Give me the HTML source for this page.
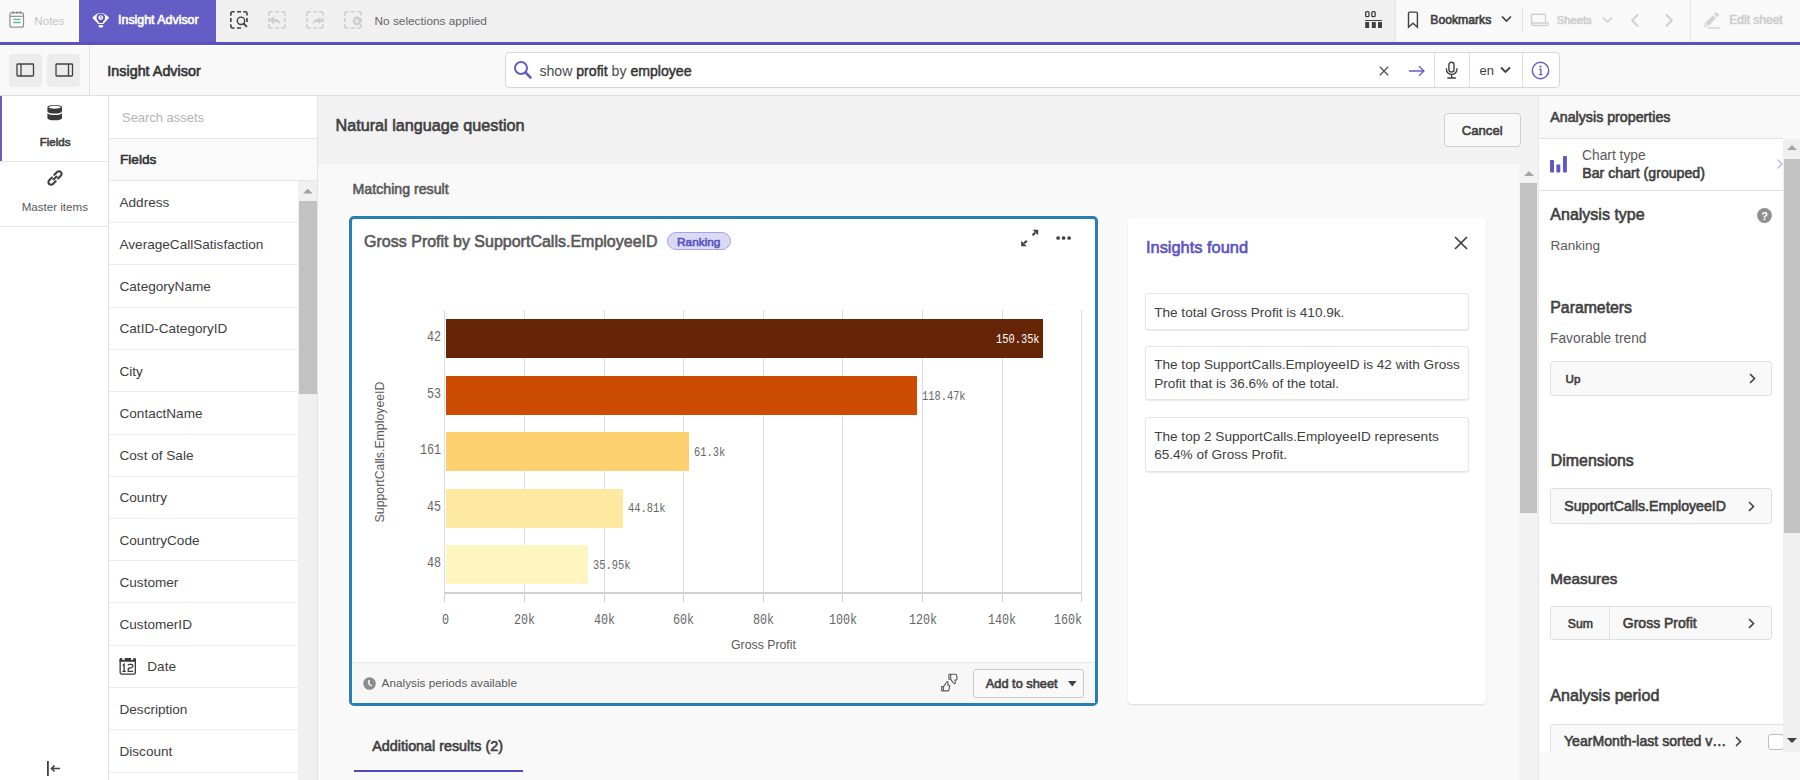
<!DOCTYPE html>
<html><head><meta charset="utf-8"><title>Insight Advisor</title>
<style>
html,body{margin:0;padding:0;}
body{width:1800px;height:780px;overflow:hidden;position:relative;background:#f9f9f9;font-family:"Liberation Sans",sans-serif;}
b{font-weight:bold;}
</style></head><body>
<div style="position:absolute;left:0px;top:0px;width:1800px;height:42px;background:#f9f9f9;"></div>
<div style="position:absolute;left:216px;top:0px;width:1179px;height:42px;background:#f0f0f0;"></div>
<div style="position:absolute;left:1395px;top:0px;width:1px;height:42px;background:#e4e4e4;"></div>
<div style="position:absolute;left:79px;top:0px;width:137px;height:42px;background:#655dc6;"></div>
<div style="position:absolute;left:0px;top:42px;width:1800px;height:3px;background:#5a50c2;"></div>
<div style="position:absolute;left:0px;top:45px;width:1800px;height:50px;background:#f9f9f9;"></div>
<div style="position:absolute;left:0px;top:45px;width:1800px;height:1px;background:#ffffff;"></div>
<div style="position:absolute;left:0px;top:95px;width:1800px;height:1px;background:#e0e0e0;"></div>
<svg style="position:absolute;left:9px;top:11px;" width="16" height="17" viewBox="0 0 16 17"><rect x="0.9" y="1.6" width="13.6" height="14.6" rx="2" fill="#fff" stroke="#8f8f8f" stroke-width="1.2"/><path d="M0.9 5.3h13.6" stroke="#8f8f8f" stroke-width="1.2"/><path d="M4.2 0.2v2.8M8 0.2v2.8M11.5 0.2v2.8" stroke="#8f8f8f" stroke-width="1.3"/><path d="M4.8 8.4h6.3M4.8 11.5h6.3" stroke="#4fbf85" stroke-width="1.3" stroke-linecap="round"/></svg>
<div style="position:absolute;left:34.30px;top:14.00px;font-family:'Liberation Sans', sans-serif;font-size:11.61px;line-height:13px;font-weight:normal;color:#c4c4c4;white-space:nowrap;">Notes</div>
<svg style="position:absolute;left:92px;top:11px;" width="18" height="17" viewBox="0 0 18 17"><path d="M0.2 6.8Q8.7 -2.6 17.2 6.8Q13.5 10.5 11.3 13H6.1Q3.9 10.5 0.2 6.8Z" fill="#fff"/><path d="M6.3 10.2A4.3 4.3 0 1 1 11.3 10.2L10.6 12H7z" fill="#5b52c4"/><circle cx="8.8" cy="6.6" r="2.4" fill="#fff"/><path d="M8.8 4.9V6.7L10.1 7.5" fill="none" stroke="#5b52c4" stroke-width="0.8"/><rect x="6.6" y="14.1" width="4.5" height="2.3" rx="0.8" fill="#fff"/></svg>
<div style="position:absolute;left:118.10px;top:13.00px;font-family:'Liberation Sans', sans-serif;font-size:12.39px;line-height:14px;font-weight:normal;color:#ffffff;white-space:nowrap;-webkit-text-stroke:0.6px #ffffff;">Insight Advisor</div>
<svg style="position:absolute;left:230px;top:11px;" width="18" height="18" viewBox="0 0 18 18"><path d="M0.8 4.8V2.8Q0.8 0.8 2.8 0.8H4.6 M7 0.8H11 M13.2 0.8H15Q17 0.8 17 2.8V4.6 M17 7V11 M11 17H7 M4.6 17H2.8Q0.8 17 0.8 15V13.2 M0.8 11V7" fill="none" stroke="#404040" stroke-width="1.6"/><circle cx="11" cy="9.8" r="3.7" fill="#f0f0f0" stroke="#404040" stroke-width="1.4"/><path d="M13.6 12.5l3.3 3.4" stroke="#404040" stroke-width="1.9"/></svg>
<svg style="position:absolute;left:268px;top:11px;" width="18" height="18" viewBox="0 0 18 18"><path d="M0.8 4.8V2.8Q0.8 0.8 2.8 0.8H4.6 M7 0.8H11 M13.2 0.8H15Q17 0.8 17 2.8V4.6 M17 7V11 M17 13.2V15Q17 17 15 17H13.2 M11 17H7 M4.6 17H2.8Q0.8 17 0.8 15V13.2 M0.8 11V7" fill="none" stroke="#cdcdcd" stroke-width="1.6"/><path d="M1.2 9.3L6 5.2V7.7Q11.5 7.6 12.5 13.2Q10 10.3 6 10.6V13.2Z" fill="#cdcdcd"/></svg>
<svg style="position:absolute;left:306px;top:11px;" width="18" height="18" viewBox="0 0 18 18"><path d="M0.8 4.8V2.8Q0.8 0.8 2.8 0.8H4.6 M7 0.8H11 M13.2 0.8H15Q17 0.8 17 2.8V4.6 M17 7V11 M17 13.2V15Q17 17 15 17H13.2 M11 17H7 M4.6 17H2.8Q0.8 17 0.8 15V13.2 M0.8 11V7" fill="none" stroke="#cdcdcd" stroke-width="1.6"/><path d="M16.8 9.4L12.6 5.9V8.1Q7.5 8.3 6.4 12.9Q9 10.6 12.6 10.9V12.9Z" fill="#cdcdcd"/></svg>
<svg style="position:absolute;left:344px;top:11px;" width="18" height="18" viewBox="0 0 18 18"><path d="M0.8 4.8V2.8Q0.8 0.8 2.8 0.8H4.6 M7 0.8H11 M13.2 0.8H15Q17 0.8 17 2.8V4.6 M17 7V11 M17 13.2V15Q17 17 15 17H13.2 M11 17H7 M4.6 17H2.8Q0.8 17 0.8 15V13.2 M0.8 11V7" fill="none" stroke="#cdcdcd" stroke-width="1.6"/><circle cx="13" cy="10" r="4.4" fill="#cdcdcd"/><path d="M11.3 8.3l3.4 3.4M14.7 8.3l-3.4 3.4" stroke="#f0f0f0" stroke-width="1.2"/></svg>
<div style="position:absolute;left:374.50px;top:14.00px;font-family:'Liberation Sans', sans-serif;font-size:11.84px;line-height:14px;font-weight:normal;color:#666666;white-space:nowrap;">No selections applied</div>
<svg style="position:absolute;left:1365px;top:11px;" width="18" height="18" viewBox="0 0 18 18"><rect x="0.65" y="0.65" width="3.3" height="5" rx="1" fill="none" stroke="#404040" stroke-width="1.3"/><rect x="6.85" y="0.65" width="3.3" height="5" rx="1" fill="none" stroke="#404040" stroke-width="1.3"/><rect x="0" y="9" width="17" height="1" fill="#404040"/><rect x="0.2" y="11" width="3.9" height="6" fill="#404040"/><rect x="6.8" y="11" width="4" height="6" fill="#404040"/><rect x="13" y="11" width="4" height="6" fill="#404040"/></svg>
<svg style="position:absolute;left:1407px;top:10px;" width="13" height="19" viewBox="0 0 13 19"><path d="M1.5 17.2V3.4Q1.5 2.1 2.8 2.1H9.1Q10.4 2.1 10.4 3.4V17.2L5.95 13.2Z" fill="none" stroke="#404040" stroke-width="1.4" stroke-linejoin="miter"/></svg>
<div style="position:absolute;left:1430.30px;top:13.00px;font-family:'Liberation Sans', sans-serif;font-size:12.20px;line-height:14px;font-weight:normal;color:#404040;white-space:nowrap;-webkit-text-stroke:0.6px #404040;">Bookmarks</div>
<svg style="position:absolute;left:1501px;top:15px;" width="11" height="8" viewBox="0 0 11 8"><path d="M1 1.5l4.5 4.5l4.5-4.5" fill="none" stroke="#404040" stroke-width="1.7"/></svg>
<div style="position:absolute;left:1522px;top:8px;width:1px;height:25px;background:#e0e0e0;"></div>
<svg style="position:absolute;left:1530px;top:13px;" width="19" height="14" viewBox="0 0 19 14"><path d="M1.5 10V2.2q0-1 1-1h12q1 0 1 1V9" fill="none" stroke="#d0d0d0" stroke-width="1.4"/><path d="M1.5 10q0 2.5 2.5 2.5h13q1 0 1-1v-1.5h-16" fill="none" stroke="#d0d0d0" stroke-width="1.4"/></svg>
<div style="position:absolute;left:1556.80px;top:14.00px;font-family:'Liberation Sans', sans-serif;font-size:11.20px;line-height:12px;font-weight:normal;color:#cdcdcd;white-space:nowrap;-webkit-text-stroke:0.6px #cdcdcd;">Sheets</div>
<svg style="position:absolute;left:1602px;top:16px;" width="11" height="8" viewBox="0 0 11 8"><path d="M1 1.5l4.5 4.5l4.5-4.5" fill="none" stroke="#cdcdcd" stroke-width="1.5"/></svg>
<svg style="position:absolute;left:1630px;top:13px;" width="10" height="15" viewBox="0 0 10 15"><path d="M8 1.5l-6 6l6 6" fill="none" stroke="#cdcdcd" stroke-width="1.8"/></svg>
<svg style="position:absolute;left:1664px;top:13px;" width="10" height="15" viewBox="0 0 10 15"><path d="M2 1.5l6 6l-6 6" fill="none" stroke="#cdcdcd" stroke-width="1.8"/></svg>
<div style="position:absolute;left:1690px;top:0px;width:1px;height:42px;background:#e6e6e6;"></div>
<svg style="position:absolute;left:1703px;top:11px;" width="18" height="18" viewBox="0 0 18 18"><path d="M5.63 14.69L2.51 11.57L9.94 4.14L13.06 7.26Z" fill="#d2d2d2"/><path d="M14.12 6.2L11 3.08L13.12 0.96L16.24 4.08Z" fill="#d2d2d2"/><path d="M2.2 12.3L1.4 15.8L4.9 15Z" fill="none" stroke="#d2d2d2" stroke-width="0.8"/><rect x="5" y="16.2" width="11.9" height="1.4" fill="#d2d2d2"/></svg>
<div style="position:absolute;left:1729.30px;top:13.00px;font-family:'Liberation Sans', sans-serif;font-size:12.01px;line-height:14px;font-weight:normal;color:#cdcdcd;white-space:nowrap;-webkit-text-stroke:0.6px #cdcdcd;">Edit sheet</div>
<div style="position:absolute;left:8.5px;top:53.5px;width:33px;height:33px;background:#ececec;border-radius:4px;"></div>
<div style="position:absolute;left:46.5px;top:53.5px;width:33px;height:33px;background:#ececec;border-radius:4px;"></div>
<svg style="position:absolute;left:16px;top:63px;" width="19" height="14" viewBox="0 0 19 14"><rect x="1" y="1" width="16.5" height="12" rx="0.8" fill="none" stroke="#404040" stroke-width="1.3"/><path d="M5 1v12" stroke="#404040" stroke-width="1.3"/></svg>
<svg style="position:absolute;left:54.5px;top:63px;" width="19" height="14" viewBox="0 0 19 14"><rect x="1" y="1" width="16.5" height="12" rx="0.8" fill="none" stroke="#404040" stroke-width="1.3"/><path d="M13.5 1v12" stroke="#404040" stroke-width="1.3"/></svg>
<div style="position:absolute;left:89px;top:45px;width:1px;height:50px;background:#e0e0e0;"></div>
<div style="position:absolute;left:107.30px;top:63.00px;font-family:'Liberation Sans', sans-serif;font-size:14.36px;line-height:16px;font-weight:normal;color:#333333;white-space:nowrap;-webkit-text-stroke:0.6px #333333;">Insight Advisor</div>
<div style="position:absolute;left:505px;top:52px;width:1054.5px;height:36px;background:#ffffff;border:1px solid #d6d6d6;border-radius:4px;box-sizing:border-box;"></div>
<svg style="position:absolute;left:513px;top:60px;" width="20" height="20" viewBox="0 0 20 20"><circle cx="8" cy="8" r="6" fill="none" stroke="#655dc6" stroke-width="2"/><path d="M12.5 12.5l5 5" stroke="#655dc6" stroke-width="2.6" stroke-linecap="round"/></svg>
<div style="position:absolute;left:539.40px;top:63.00px;font-family:'Liberation Sans', sans-serif;font-size:14.12px;line-height:16px;font-weight:normal;color:#4a4a4a;white-space:nowrap;">show <span style="-webkit-text-stroke:0.45px #333;color:#333">profit</span> by <span style="-webkit-text-stroke:0.45px #333;color:#333">employee</span></div>
<svg style="position:absolute;left:1378.5px;top:65.5px;" width="10" height="10" viewBox="0 0 10 10"><path d="M0.8 0.8l8.4 8.4M9.2 0.8l-8.4 8.4" stroke="#595959" stroke-width="1.4"/></svg>
<svg style="position:absolute;left:1408px;top:64.5px;" width="18" height="12" viewBox="0 0 18 12"><path d="M1 6h15M11 1.2l5 4.8l-5 4.8" fill="none" stroke="#655dc6" stroke-width="1.3"/></svg>
<div style="position:absolute;left:1434px;top:52px;width:1px;height:36px;background:#dedede;"></div>
<svg style="position:absolute;left:1444px;top:60px;" width="15" height="20" viewBox="0 0 15 20"><rect x="4.9" y="2.3" width="5.1" height="9.7" rx="2.55" fill="none" stroke="#404040" stroke-width="1.4"/><path d="M2.4 8.2V9.2A5.25 5.25 0 0 0 12.9 9.2V8.2M7.65 14.4V17.5M3.3 17.95H11.9" fill="none" stroke="#404040" stroke-width="1.4"/></svg>
<div style="position:absolute;left:1469px;top:52px;width:1px;height:36px;background:#dedede;"></div>
<div style="position:absolute;left:1479.60px;top:63.00px;font-family:'Liberation Sans', sans-serif;font-size:12.97px;line-height:15px;font-weight:normal;color:#404040;white-space:nowrap;">en</div>
<svg style="position:absolute;left:1500px;top:66px;" width="11" height="8" viewBox="0 0 11 8"><path d="M1 1.5l4.5 4.5l4.5-4.5" fill="none" stroke="#404040" stroke-width="1.8"/></svg>
<div style="position:absolute;left:1521.5px;top:52px;width:1px;height:36px;background:#dedede;"></div>
<svg style="position:absolute;left:1531px;top:61px;" width="19" height="19" viewBox="0 0 19 19"><circle cx="9.5" cy="9.5" r="8.2" fill="none" stroke="#655dc6" stroke-width="1.4"/><circle cx="9.5" cy="5.6" r="1.1" fill="#655dc6"/><path d="M8 8.3h1.9v5.2M7.8 13.6h3.6" fill="none" stroke="#655dc6" stroke-width="1.3"/></svg>
<div style="position:absolute;left:0px;top:96px;width:108px;height:684px;background:#ffffff;"></div>
<div style="position:absolute;left:108px;top:96px;width:1px;height:684px;background:#e0e0e0;"></div>
<div style="position:absolute;left:0px;top:96px;width:2px;height:65px;background:#655dc6;"></div>
<div style="position:absolute;left:0px;top:161px;width:108px;height:1px;background:#e6e6e6;"></div>
<div style="position:absolute;left:0px;top:226px;width:108px;height:1px;background:#e6e6e6;"></div>
<svg style="position:absolute;left:47px;top:104px;" width="16" height="17" viewBox="0 0 16 17"><path d="M0.4 3.2A7.3 2.3 0 0 1 15 3.2V7.3A7.3 2.3 0 0 1 0.4 7.3Z" fill="#3a3a3a"/><ellipse cx="7.7" cy="3.3" rx="6.1" ry="1.45" fill="#fff"/><path d="M0.4 8.8A7.3 2.3 0 0 0 15 8.8V14A7.3 2.3 0 0 1 0.4 14Z" fill="#3a3a3a"/></svg>
<div style="position:absolute;left:39.70px;top:136.00px;font-family:'Liberation Sans', sans-serif;font-size:11.54px;line-height:12px;font-weight:normal;color:#404040;white-space:nowrap;-webkit-text-stroke:0.6px #404040;">Fields</div>
<svg style="position:absolute;left:46px;top:169px;" width="18" height="18" viewBox="0 0 18 18"><g fill="none" stroke="#404040" stroke-width="2.1" stroke-linecap="round"><path d="M7.5 10.5l3-3"/><path d="M6 8.5l-2.8 2.8a2.6 2.6 0 0 0 3.7 3.7l2.8-2.8"/><path d="M12 9.5l2.8-2.8a2.6 2.6 0 0 0 -3.7 -3.7l-2.8 2.8"/></g></svg>
<div style="position:absolute;left:21.70px;top:201.00px;font-family:'Liberation Sans', sans-serif;font-size:11.58px;line-height:12px;font-weight:normal;color:#595959;white-space:nowrap;">Master items</div>
<svg style="position:absolute;left:46px;top:760px;" width="16" height="18" viewBox="0 0 16 18"><rect x="1" y="1" width="1.8" height="15" fill="#404040"/><path d="M14 8.5h-8M8.5 5.5l-3 3l3 3" fill="none" stroke="#404040" stroke-width="1.6"/></svg>
<div style="position:absolute;left:109px;top:96px;width:208px;height:684px;background:#ffffff;"></div>
<div style="position:absolute;left:109px;top:138px;width:208px;height:1px;background:#e6e6e6;"></div>
<div style="position:absolute;left:122.00px;top:110.00px;font-family:'Liberation Sans', sans-serif;font-size:12.94px;line-height:15px;font-weight:normal;color:#b3b3b3;white-space:nowrap;">Search assets</div>
<div style="position:absolute;left:109px;top:139px;width:208px;height:42px;background:#fafafa;"></div>
<div style="position:absolute;left:109px;top:180px;width:208px;height:1px;background:#e6e6e6;"></div>
<div style="position:absolute;left:120.00px;top:152.00px;font-family:'Liberation Sans', sans-serif;font-size:13.60px;line-height:15px;font-weight:normal;color:#333333;white-space:nowrap;-webkit-text-stroke:0.6px #333333;">Fields</div>
<div style="position:absolute;left:109px;top:222px;width:189px;height:1px;background:#ebebeb;"></div>
<div style="position:absolute;left:119.50px;top:195.00px;font-family:'Liberation Sans', sans-serif;font-size:13.59px;line-height:15px;font-weight:normal;color:#404040;white-space:nowrap;">Address</div>
<div style="position:absolute;left:109px;top:264px;width:189px;height:1px;background:#ebebeb;"></div>
<div style="position:absolute;left:119.50px;top:237.00px;font-family:'Liberation Sans', sans-serif;font-size:13.59px;line-height:15px;font-weight:normal;color:#404040;white-space:nowrap;">AverageCallSatisfaction</div>
<div style="position:absolute;left:109px;top:307px;width:189px;height:1px;background:#ebebeb;"></div>
<div style="position:absolute;left:119.50px;top:279.00px;font-family:'Liberation Sans', sans-serif;font-size:13.59px;line-height:15px;font-weight:normal;color:#404040;white-space:nowrap;">CategoryName</div>
<div style="position:absolute;left:109px;top:349px;width:189px;height:1px;background:#ebebeb;"></div>
<div style="position:absolute;left:119.50px;top:321.00px;font-family:'Liberation Sans', sans-serif;font-size:13.59px;line-height:15px;font-weight:normal;color:#404040;white-space:nowrap;">CatID-CategoryID</div>
<div style="position:absolute;left:109px;top:391px;width:189px;height:1px;background:#ebebeb;"></div>
<div style="position:absolute;left:119.50px;top:364.00px;font-family:'Liberation Sans', sans-serif;font-size:13.59px;line-height:15px;font-weight:normal;color:#404040;white-space:nowrap;">City</div>
<div style="position:absolute;left:109px;top:434px;width:189px;height:1px;background:#ebebeb;"></div>
<div style="position:absolute;left:119.50px;top:406.00px;font-family:'Liberation Sans', sans-serif;font-size:13.59px;line-height:15px;font-weight:normal;color:#404040;white-space:nowrap;">ContactName</div>
<div style="position:absolute;left:109px;top:476px;width:189px;height:1px;background:#ebebeb;"></div>
<div style="position:absolute;left:119.50px;top:448.00px;font-family:'Liberation Sans', sans-serif;font-size:13.59px;line-height:15px;font-weight:normal;color:#404040;white-space:nowrap;">Cost of Sale</div>
<div style="position:absolute;left:109px;top:518px;width:189px;height:1px;background:#ebebeb;"></div>
<div style="position:absolute;left:119.50px;top:490.00px;font-family:'Liberation Sans', sans-serif;font-size:13.59px;line-height:15px;font-weight:normal;color:#404040;white-space:nowrap;">Country</div>
<div style="position:absolute;left:109px;top:560px;width:189px;height:1px;background:#ebebeb;"></div>
<div style="position:absolute;left:119.50px;top:533.00px;font-family:'Liberation Sans', sans-serif;font-size:13.59px;line-height:15px;font-weight:normal;color:#404040;white-space:nowrap;">CountryCode</div>
<div style="position:absolute;left:109px;top:602px;width:189px;height:1px;background:#ebebeb;"></div>
<div style="position:absolute;left:119.50px;top:575.00px;font-family:'Liberation Sans', sans-serif;font-size:13.59px;line-height:15px;font-weight:normal;color:#404040;white-space:nowrap;">Customer</div>
<div style="position:absolute;left:109px;top:645px;width:189px;height:1px;background:#ebebeb;"></div>
<div style="position:absolute;left:119.50px;top:617.00px;font-family:'Liberation Sans', sans-serif;font-size:13.59px;line-height:15px;font-weight:normal;color:#404040;white-space:nowrap;">CustomerID</div>
<div style="position:absolute;left:109px;top:687px;width:189px;height:1px;background:#ebebeb;"></div>
<svg style="position:absolute;left:119px;top:657px;" width="18" height="18" viewBox="0 0 18 18"><rect x="1.15" y="1.65" width="15.2" height="15.4" rx="1.6" fill="#fff" stroke="#3a3a3a" stroke-width="1.3"/><path d="M0.5 2.6Q0.5 1 2 1H15.5Q17 1 17 2.6V4.7H0.5Z" fill="#3a3a3a"/><rect x="3.2" y="0.5" width="2.6" height="2.3" fill="#fff"/><rect x="12" y="0.5" width="2.3" height="2.3" fill="#fff"/><path d="M3.7 8.6L5.1 7.2V14.4M3.4 14.4H6.8" fill="none" stroke="#3a3a3a" stroke-width="1.3"/><path d="M9 8.4Q9.2 7.3 10.5 7.3H12.4Q13.9 7.3 13.9 8.8Q13.9 10.2 12.4 10.6L10.4 11Q9.2 11.3 9.2 12.6V14.4H14.1" fill="none" stroke="#3a3a3a" stroke-width="1.3"/></svg>
<div style="position:absolute;left:147.30px;top:659.00px;font-family:'Liberation Sans', sans-serif;font-size:13.59px;line-height:15px;font-weight:normal;color:#404040;white-space:nowrap;">Date</div>
<div style="position:absolute;left:109px;top:729px;width:189px;height:1px;background:#ebebeb;"></div>
<div style="position:absolute;left:119.50px;top:702.00px;font-family:'Liberation Sans', sans-serif;font-size:13.59px;line-height:15px;font-weight:normal;color:#404040;white-space:nowrap;">Description</div>
<div style="position:absolute;left:109px;top:772px;width:189px;height:1px;background:#ebebeb;"></div>
<div style="position:absolute;left:119.50px;top:744.00px;font-family:'Liberation Sans', sans-serif;font-size:13.59px;line-height:15px;font-weight:normal;color:#404040;white-space:nowrap;">Discount</div>
<div style="position:absolute;left:109px;top:814px;width:189px;height:1px;background:#ebebeb;"></div>
<div style="position:absolute;left:298px;top:181px;width:19px;height:599px;background:#f0f0f0;"></div>
<svg style="position:absolute;left:302.5px;top:188px;" width="10" height="6" viewBox="0 0 10 6"><path d="M0 5.5l4.75 -4.75l4.75 4.75z" fill="#a0a0a0"/></svg>
<div style="position:absolute;left:298.5px;top:201px;width:18.5px;height:192.5px;background:#c2c2c2;"></div>
<div style="position:absolute;left:317px;top:96px;width:1px;height:684px;background:#e2e2e2;"></div>
<div style="position:absolute;left:318px;top:96px;width:1220px;height:68px;background:#f2f2f2;"></div>
<div style="position:absolute;left:318px;top:164px;width:1220px;height:616px;background:#f9f9f9;"></div>
<div style="position:absolute;left:335.50px;top:116.00px;font-family:'Liberation Sans', sans-serif;font-size:16.21px;line-height:18px;font-weight:normal;color:#404040;white-space:nowrap;-webkit-text-stroke:0.6px #404040;">Natural language question</div>
<div style="position:absolute;left:1443.5px;top:113px;width:77.5px;height:33.5px;background:#f9f9f9;border:1px solid #cfcfcf;border-radius:4px;box-sizing:border-box;"></div>
<div style="position:absolute;left:1461.80px;top:123.00px;font-family:'Liberation Sans', sans-serif;font-size:13.13px;line-height:15px;font-weight:normal;color:#404040;white-space:nowrap;-webkit-text-stroke:0.6px #404040;">Cancel</div>
<div style="position:absolute;left:352.50px;top:181.00px;font-family:'Liberation Sans', sans-serif;font-size:14.20px;line-height:16px;font-weight:normal;color:#595959;white-space:nowrap;-webkit-text-stroke:0.6px #595959;">Matching result</div>
<div style="position:absolute;left:1519px;top:164px;width:18.5px;height:616px;background:#f2f2f2;"></div>
<svg style="position:absolute;left:1523.5px;top:170px;" width="10" height="6" viewBox="0 0 10 6"><path d="M0 6l5 -5l5 5z" fill="#a6a6a6"/></svg>
<div style="position:absolute;left:1519.5px;top:183px;width:17.5px;height:330px;background:#c2c2c2;"></div>
<div style="position:absolute;left:1537.5px;top:96px;width:1.5px;height:684px;background:#e6e6e6;"></div>
<div style="position:absolute;left:349px;top:216px;width:748.5px;height:490px;background:#ffffff;border:3px solid #2b7fb0;border-radius:5px;box-sizing:border-box;"></div>
<div style="position:absolute;left:352px;top:662px;width:742.5px;height:41px;background:#f7f7f7;"></div>
<div style="position:absolute;left:352px;top:662px;width:742.5px;height:1px;background:#e8e8e8;"></div>
<div style="position:absolute;left:364.10px;top:233.00px;font-family:'Liberation Sans', sans-serif;font-size:16.01px;line-height:17px;font-weight:normal;color:#595959;white-space:nowrap;-webkit-text-stroke:0.6px #595959;">Gross Profit by SupportCalls.EmployeeID</div>
<div style="position:absolute;left:667px;top:232px;width:64px;height:18px;background:#dbd9f4;border:1px solid #a8a4e4;border-radius:9px;box-sizing:border-box;"></div>
<div style="position:absolute;left:677.05px;top:235.00px;font-family:'Liberation Sans', sans-serif;font-size:11.83px;line-height:14px;font-weight:normal;color:#5a52c0;white-space:nowrap;-webkit-text-stroke:0.6px #5a52c0;">Ranking</div>
<svg style="position:absolute;left:1020px;top:229px;" width="19" height="19" viewBox="0 0 19 19"><path d="M12.6 0.7H18.2V6.3Z" fill="#404040"/><path d="M15.2 3.7L12.6 6.3" stroke="#404040" stroke-width="2.2"/><path d="M1.2 11.7V17.3H6.8Z" fill="#404040"/><path d="M4.2 14.3L6.8 11.7" stroke="#404040" stroke-width="2.2"/></svg>
<svg style="position:absolute;left:1055px;top:235px;" width="17" height="6" viewBox="0 0 17 6"><circle cx="3.1" cy="3" r="1.85" fill="#404040"/><circle cx="8.6" cy="3" r="1.85" fill="#404040"/><circle cx="14.1" cy="3" r="1.85" fill="#404040"/></svg>
<div style="position:absolute;left:444.0px;top:310px;width:1px;height:283px;background:#dcdcdc;"></div>
<div style="position:absolute;left:444.0px;top:593px;width:1px;height:9px;background:#d0d0d0;"></div>
<div style="position:absolute;left:523.5px;top:310px;width:1px;height:283px;background:#dcdcdc;"></div>
<div style="position:absolute;left:523.5px;top:593px;width:1px;height:9px;background:#d0d0d0;"></div>
<div style="position:absolute;left:603.5px;top:310px;width:1px;height:283px;background:#dcdcdc;"></div>
<div style="position:absolute;left:603.5px;top:593px;width:1px;height:9px;background:#d0d0d0;"></div>
<div style="position:absolute;left:683.0px;top:310px;width:1px;height:283px;background:#dcdcdc;"></div>
<div style="position:absolute;left:683.0px;top:593px;width:1px;height:9px;background:#d0d0d0;"></div>
<div style="position:absolute;left:762.5px;top:310px;width:1px;height:283px;background:#dcdcdc;"></div>
<div style="position:absolute;left:762.5px;top:593px;width:1px;height:9px;background:#d0d0d0;"></div>
<div style="position:absolute;left:842.0px;top:310px;width:1px;height:283px;background:#dcdcdc;"></div>
<div style="position:absolute;left:842.0px;top:593px;width:1px;height:9px;background:#d0d0d0;"></div>
<div style="position:absolute;left:921.5px;top:310px;width:1px;height:283px;background:#dcdcdc;"></div>
<div style="position:absolute;left:921.5px;top:593px;width:1px;height:9px;background:#d0d0d0;"></div>
<div style="position:absolute;left:1001.5px;top:310px;width:1px;height:283px;background:#dcdcdc;"></div>
<div style="position:absolute;left:1001.5px;top:593px;width:1px;height:9px;background:#d0d0d0;"></div>
<div style="position:absolute;left:1081.0px;top:310px;width:1px;height:283px;background:#dcdcdc;"></div>
<div style="position:absolute;left:1081.0px;top:593px;width:1px;height:9px;background:#d0d0d0;"></div>
<div style="position:absolute;left:444px;top:592px;width:638px;height:1.5px;background:#d0d0d0;"></div>
<div style="position:absolute;left:445.5px;top:319.0px;width:597.8929999999999px;height:39.2px;background:#662506;"></div>
<div style="position:absolute;left:427.45px;top:329.00px;font-family:'Liberation Mono', monospace;font-size:14.10px;line-height:16px;font-weight:normal;color:#666666;white-space:nowrap;transform:scaleX(0.8300);transform-origin:0 0;">42</div>
<div style="position:absolute;left:995.88px;top:332.00px;font-family:'Liberation Mono', monospace;font-size:13.40px;line-height:15px;font-weight:normal;color:#ffffff;white-space:nowrap;transform:scaleX(0.7750);transform-origin:0 0;">150.35k</div>
<div style="position:absolute;left:445.5px;top:375.5px;width:471.01059999999995px;height:39.2px;background:#cc4c02;"></div>
<div style="position:absolute;left:427.45px;top:386.00px;font-family:'Liberation Mono', monospace;font-size:14.10px;line-height:16px;font-weight:normal;color:#666666;white-space:nowrap;transform:scaleX(0.8300);transform-origin:0 0;">53</div>
<div style="position:absolute;left:921.51px;top:389.00px;font-family:'Liberation Mono', monospace;font-size:13.40px;line-height:15px;font-weight:normal;color:#666666;white-space:nowrap;transform:scaleX(0.7750);transform-origin:0 0;">118.47k</div>
<div style="position:absolute;left:445.5px;top:432.0px;width:243.47399999999996px;height:39.2px;background:#fdd16f;"></div>
<div style="position:absolute;left:420.43px;top:442.00px;font-family:'Liberation Mono', monospace;font-size:14.10px;line-height:16px;font-weight:normal;color:#666666;white-space:nowrap;transform:scaleX(0.8300);transform-origin:0 0;">161</div>
<div style="position:absolute;left:693.97px;top:445.00px;font-family:'Liberation Mono', monospace;font-size:13.40px;line-height:15px;font-weight:normal;color:#666666;white-space:nowrap;transform:scaleX(0.7750);transform-origin:0 0;">61.3k</div>
<div style="position:absolute;left:445.5px;top:488.5px;width:177.8438px;height:39.2px;background:#fee9a3;"></div>
<div style="position:absolute;left:427.45px;top:499.00px;font-family:'Liberation Mono', monospace;font-size:14.10px;line-height:16px;font-weight:normal;color:#666666;white-space:nowrap;transform:scaleX(0.8300);transform-origin:0 0;">45</div>
<div style="position:absolute;left:628.34px;top:501.00px;font-family:'Liberation Mono', monospace;font-size:13.40px;line-height:15px;font-weight:normal;color:#666666;white-space:nowrap;transform:scaleX(0.7750);transform-origin:0 0;">44.81k</div>
<div style="position:absolute;left:445.5px;top:545.0px;width:142.581px;height:39.2px;background:#fff5c1;"></div>
<div style="position:absolute;left:427.45px;top:555.00px;font-family:'Liberation Mono', monospace;font-size:14.10px;line-height:16px;font-weight:normal;color:#666666;white-space:nowrap;transform:scaleX(0.8300);transform-origin:0 0;">48</div>
<div style="position:absolute;left:593.08px;top:558.00px;font-family:'Liberation Mono', monospace;font-size:13.40px;line-height:15px;font-weight:normal;color:#666666;white-space:nowrap;transform:scaleX(0.7750);transform-origin:0 0;">35.95k</div>
<div style="position:absolute;left:441.59px;top:612.00px;font-family:'Liberation Mono', monospace;font-size:14.10px;line-height:16px;font-weight:normal;color:#666666;white-space:nowrap;transform:scaleX(0.8300);transform-origin:0 0;">0</div>
<div style="position:absolute;left:514.17px;top:612.00px;font-family:'Liberation Mono', monospace;font-size:14.10px;line-height:16px;font-weight:normal;color:#666666;white-space:nowrap;transform:scaleX(0.8300);transform-origin:0 0;">20k</div>
<div style="position:absolute;left:593.77px;top:612.00px;font-family:'Liberation Mono', monospace;font-size:14.10px;line-height:16px;font-weight:normal;color:#666666;white-space:nowrap;transform:scaleX(0.8300);transform-origin:0 0;">40k</div>
<div style="position:absolute;left:673.37px;top:612.00px;font-family:'Liberation Mono', monospace;font-size:14.10px;line-height:16px;font-weight:normal;color:#666666;white-space:nowrap;transform:scaleX(0.8300);transform-origin:0 0;">60k</div>
<div style="position:absolute;left:752.97px;top:612.00px;font-family:'Liberation Mono', monospace;font-size:14.10px;line-height:16px;font-weight:normal;color:#666666;white-space:nowrap;transform:scaleX(0.8300);transform-origin:0 0;">80k</div>
<div style="position:absolute;left:829.05px;top:612.00px;font-family:'Liberation Mono', monospace;font-size:14.10px;line-height:16px;font-weight:normal;color:#666666;white-space:nowrap;transform:scaleX(0.8300);transform-origin:0 0;">100k</div>
<div style="position:absolute;left:908.65px;top:612.00px;font-family:'Liberation Mono', monospace;font-size:14.10px;line-height:16px;font-weight:normal;color:#666666;white-space:nowrap;transform:scaleX(0.8300);transform-origin:0 0;">120k</div>
<div style="position:absolute;left:988.25px;top:612.00px;font-family:'Liberation Mono', monospace;font-size:14.10px;line-height:16px;font-weight:normal;color:#666666;white-space:nowrap;transform:scaleX(0.8300);transform-origin:0 0;">140k</div>
<div style="position:absolute;left:1054.41px;top:612.00px;font-family:'Liberation Mono', monospace;font-size:14.10px;line-height:16px;font-weight:normal;color:#666666;white-space:nowrap;transform:scaleX(0.8300);transform-origin:0 0;">160k</div>
<div style="position:absolute;left:731.00px;top:638.00px;font-family:'Liberation Sans', sans-serif;font-size:12.31px;line-height:14px;font-weight:normal;color:#595959;white-space:nowrap;">Gross Profit</div>
<div style="position:absolute;left:379.5px;top:452px;width:0;height:0;"><div style="position:absolute;left:-71px;top:-8px;width:142px;height:16px;transform:rotate(-90deg);transform-origin:71px 8px;font-family:'Liberation Sans',sans-serif;font-size:12.3px;line-height:16px;color:#595959;white-space:nowrap;text-align:center;">SupportCalls.EmployeeID</div></div>
<svg style="position:absolute;left:363px;top:677px;" width="13" height="13" viewBox="0 0 13 13"><circle cx="6.5" cy="6.5" r="6.3" fill="#8c8c8c"/><path d="M6 3v4l2.6 2" fill="none" stroke="#fff" stroke-width="1.5"/></svg>
<div style="position:absolute;left:381.60px;top:676.00px;font-family:'Liberation Sans', sans-serif;font-size:11.77px;line-height:13px;font-weight:normal;color:#595959;white-space:nowrap;">Analysis periods available</div>
<svg style="position:absolute;left:940px;top:673px;" width="19" height="20" viewBox="0 0 19 20"><g fill="none" stroke="#595959" stroke-width="1.1" stroke-linejoin="round"><rect x="1.6" y="13.6" width="1.8" height="4.3" rx="0.4"/><path d="M3.4 13.8L5.6 10.9Q6.6 8.4 7.5 8.5Q8.4 8.9 8.1 10.4L7.7 12.2H9.1Q9.9 12.4 9.6 13.4L8.9 17.1Q8.7 17.9 7.9 17.9H3.4"/><rect x="8.9" y="1.3" width="1.8" height="5" rx="0.4"/><path d="M10.7 6.3L12.9 9.3Q13.8 10.9 14.8 10.7Q15.6 10.2 15.3 8.7L14.9 7H16.3Q17.2 6.8 17.1 5.8L16.6 2.3Q16.4 1.3 15.4 1.3H10.7"/></g></svg>
<div style="position:absolute;left:973px;top:668.5px;width:110.5px;height:29px;background:#f9f9f9;border:1px solid #c9c9c9;border-radius:3px;box-sizing:border-box;"></div>
<div style="position:absolute;left:985.80px;top:676.00px;font-family:'Liberation Sans', sans-serif;font-size:12.80px;line-height:15px;font-weight:normal;color:#404040;white-space:nowrap;-webkit-text-stroke:0.6px #404040;">Add to sheet</div>
<svg style="position:absolute;left:1068px;top:681px;" width="9" height="6" viewBox="0 0 9 6"><path d="M0 0h8.6l-4.3 5.6z" fill="#404040"/></svg>
<div style="position:absolute;left:372.30px;top:738.00px;font-family:'Liberation Sans', sans-serif;font-size:14.34px;line-height:16px;font-weight:normal;color:#404040;white-space:nowrap;-webkit-text-stroke:0.6px #404040;">Additional results (2)</div>
<div style="position:absolute;left:353.5px;top:769.7px;width:169px;height:2px;background:#4f47c6;"></div>
<div style="position:absolute;left:1128px;top:217.5px;width:358px;height:486px;background:#ffffff;border-radius:4px;box-shadow:0 1px 2px rgba(0,0,0,0.12);"></div>
<div style="position:absolute;left:1146.00px;top:238.00px;font-family:'Liberation Sans', sans-serif;font-size:16.40px;line-height:18px;font-weight:normal;color:#5a52c0;white-space:nowrap;-webkit-text-stroke:0.6px #5a52c0;">Insights found</div>
<svg style="position:absolute;left:1454px;top:236px;" width="14" height="14" viewBox="0 0 14 14"><path d="M1 1l12 12M13 1l-12 12" stroke="#404040" stroke-width="1.7"/></svg>
<div style="position:absolute;left:1144.8px;top:293px;width:324.5px;height:36.60000000000002px;background:#ffffff;border:1px solid #e6e6e6;border-radius:3px;box-sizing:border-box;box-shadow:0 1px 1px rgba(0,0,0,0.08);"></div>
<div style="position:absolute;left:1154.20px;top:305.00px;font-family:'Liberation Sans', sans-serif;font-size:13.59px;line-height:15px;font-weight:normal;color:#404040;white-space:nowrap;">The total Gross Profit is 410.9k.</div>
<div style="position:absolute;left:1144.8px;top:345.5px;width:324.5px;height:54.89999999999998px;background:#ffffff;border:1px solid #e6e6e6;border-radius:3px;box-sizing:border-box;box-shadow:0 1px 1px rgba(0,0,0,0.08);"></div>
<div style="position:absolute;left:1154.20px;top:357.00px;font-family:'Liberation Sans', sans-serif;font-size:13.59px;line-height:15px;font-weight:normal;color:#404040;white-space:nowrap;">The top SupportCalls.EmployeeID is 42 with Gross</div>
<div style="position:absolute;left:1154.20px;top:376.00px;font-family:'Liberation Sans', sans-serif;font-size:13.59px;line-height:15px;font-weight:normal;color:#404040;white-space:nowrap;">Profit that is 36.6% of the total.</div>
<div style="position:absolute;left:1144.8px;top:417px;width:324.5px;height:55.39999999999998px;background:#ffffff;border:1px solid #e6e6e6;border-radius:3px;box-sizing:border-box;box-shadow:0 1px 1px rgba(0,0,0,0.08);"></div>
<div style="position:absolute;left:1154.20px;top:429.00px;font-family:'Liberation Sans', sans-serif;font-size:13.59px;line-height:15px;font-weight:normal;color:#404040;white-space:nowrap;">The top 2 SupportCalls.EmployeeID represents</div>
<div style="position:absolute;left:1154.20px;top:447.00px;font-family:'Liberation Sans', sans-serif;font-size:13.59px;line-height:15px;font-weight:normal;color:#404040;white-space:nowrap;">65.4% of Gross Profit.</div>
<div style="position:absolute;left:1539px;top:96px;width:244px;height:656px;background:#ffffff;"></div>
<div style="position:absolute;left:1539px;top:96px;width:244px;height:42px;background:#f9f9f9;"></div>
<div style="position:absolute;left:1539px;top:138px;width:244px;height:1px;background:#e0e0e0;"></div>
<div style="position:absolute;left:1539px;top:190px;width:244px;height:1px;background:#e0e0e0;"></div>
<div style="position:absolute;left:1550.30px;top:109.00px;font-family:'Liberation Sans', sans-serif;font-size:14.22px;line-height:16px;font-weight:normal;color:#404040;white-space:nowrap;-webkit-text-stroke:0.6px #404040;">Analysis properties</div>
<svg style="position:absolute;left:1550px;top:156px;" width="17" height="17" viewBox="0 0 17 17"><rect x="0" y="4" width="4" height="12.5" rx="0.8" fill="#5f57c6"/><rect x="6.4" y="8.5" width="3.9" height="8" rx="0.8" fill="#5f57c6"/><rect x="13" y="0" width="3.9" height="16.5" rx="0.8" fill="#5f57c6"/></svg>
<div style="position:absolute;left:1582.00px;top:147.00px;font-family:'Liberation Sans', sans-serif;font-size:13.82px;line-height:16px;font-weight:normal;color:#595959;white-space:nowrap;">Chart type</div>
<div style="position:absolute;left:1582.30px;top:165.00px;font-family:'Liberation Sans', sans-serif;font-size:14.15px;line-height:16px;font-weight:normal;color:#404040;white-space:nowrap;-webkit-text-stroke:0.6px #404040;">Bar chart (grouped)</div>
<svg style="position:absolute;left:1777px;top:159px;" width="6" height="10" viewBox="0 0 6 10"><path d="M0.5 0.5l4.5 4.5l-4.5 4.5" fill="none" stroke="#b8b4ee" stroke-width="1.3"/></svg>
<div style="position:absolute;left:1550.30px;top:205.00px;font-family:'Liberation Sans', sans-serif;font-size:16.03px;line-height:18px;font-weight:normal;color:#404040;white-space:nowrap;-webkit-text-stroke:0.6px #404040;">Analysis type</div>
<svg style="position:absolute;left:1757px;top:208px;" width="15" height="15" viewBox="0 0 15 15"><circle cx="7.5" cy="7.5" r="7.4" fill="#8f8f8f"/><text x="7.5" y="11.6" font-family="Liberation Sans" font-weight="bold" font-size="11" text-anchor="middle" fill="#fff">?</text></svg>
<div style="position:absolute;left:1550.40px;top:238.00px;font-family:'Liberation Sans', sans-serif;font-size:13.54px;line-height:15px;font-weight:normal;color:#595959;white-space:nowrap;">Ranking</div>
<div style="position:absolute;left:1550.30px;top:299.00px;font-family:'Liberation Sans', sans-serif;font-size:15.82px;line-height:17px;font-weight:normal;color:#404040;white-space:nowrap;-webkit-text-stroke:0.6px #404040;">Parameters</div>
<div style="position:absolute;left:1550.00px;top:331.00px;font-family:'Liberation Sans', sans-serif;font-size:13.79px;line-height:15px;font-weight:normal;color:#595959;white-space:nowrap;">Favorable trend</div>
<div style="position:absolute;left:1550px;top:361px;width:221.5px;height:34.5px;background:#f9f9f9;border:1px solid #e0e0e0;border-radius:3px;box-sizing:border-box;"></div>
<div style="position:absolute;left:1565.50px;top:372.00px;font-family:'Liberation Sans', sans-serif;font-size:11.64px;line-height:13px;font-weight:normal;color:#404040;white-space:nowrap;-webkit-text-stroke:0.6px #404040;">Up</div>
<svg style="position:absolute;left:1748.5px;top:372.5px;" width="7" height="11" viewBox="0 0 7 11"><path d="M1 1l4.5 4.5l-4.5 4.5" fill="none" stroke="#404040" stroke-width="1.6"/></svg>
<div style="position:absolute;left:1550.80px;top:452.00px;font-family:'Liberation Sans', sans-serif;font-size:15.90px;line-height:17px;font-weight:normal;color:#404040;white-space:nowrap;-webkit-text-stroke:0.6px #404040;">Dimensions</div>
<div style="position:absolute;left:1550px;top:488px;width:221.5px;height:35.700000000000045px;background:#f9f9f9;border:1px solid #e0e0e0;border-radius:3px;box-sizing:border-box;"></div>
<div style="position:absolute;left:1564.30px;top:498.00px;font-family:'Liberation Sans', sans-serif;font-size:14.12px;line-height:16px;font-weight:normal;color:#404040;white-space:nowrap;-webkit-text-stroke:0.6px #404040;">SupportCalls.EmployeeID</div>
<svg style="position:absolute;left:1747.5px;top:500.5px;" width="7" height="11" viewBox="0 0 7 11"><path d="M1 1l4.5 4.5l-4.5 4.5" fill="none" stroke="#404040" stroke-width="1.6"/></svg>
<div style="position:absolute;left:1550.30px;top:570.00px;font-family:'Liberation Sans', sans-serif;font-size:15.28px;line-height:17px;font-weight:normal;color:#404040;white-space:nowrap;-webkit-text-stroke:0.6px #404040;">Measures</div>
<div style="position:absolute;left:1550px;top:605.5px;width:221.5px;height:34.5px;background:#f9f9f9;border:1px solid #e0e0e0;border-radius:3px;box-sizing:border-box;"></div>
<div style="position:absolute;left:1609px;top:605.5px;width:1px;height:34.5px;background:#e0e0e0;"></div>
<div style="position:absolute;left:1567.80px;top:617.00px;font-family:'Liberation Sans', sans-serif;font-size:12.26px;line-height:14px;font-weight:normal;color:#404040;white-space:nowrap;-webkit-text-stroke:0.6px #404040;">Sum</div>
<div style="position:absolute;left:1622.80px;top:615.00px;font-family:'Liberation Sans', sans-serif;font-size:14.00px;line-height:16px;font-weight:normal;color:#404040;white-space:nowrap;-webkit-text-stroke:0.6px #404040;">Gross Profit</div>
<svg style="position:absolute;left:1747.5px;top:617.5px;" width="7" height="11" viewBox="0 0 7 11"><path d="M1 1l4.5 4.5l-4.5 4.5" fill="none" stroke="#404040" stroke-width="1.6"/></svg>
<div style="position:absolute;left:1550.30px;top:686.00px;font-family:'Liberation Sans', sans-serif;font-size:16.08px;line-height:18px;font-weight:normal;color:#404040;white-space:nowrap;-webkit-text-stroke:0.6px #404040;">Analysis period</div>
<div style="position:absolute;left:1550px;top:723.5px;width:240px;height:36.5px;background:#f9f9f9;border:1px solid #e0e0e0;border-radius:3px;box-sizing:border-box;"></div>
<div style="position:absolute;left:1564.00px;top:733.00px;font-family:'Liberation Sans', sans-serif;font-size:14.10px;line-height:16px;font-weight:normal;color:#404040;white-space:nowrap;-webkit-text-stroke:0.6px #404040;">YearMonth-last sorted v…</div>
<svg style="position:absolute;left:1734.5px;top:736px;" width="7" height="11" viewBox="0 0 7 11"><path d="M1 1l4.5 4.5l-4.5 4.5" fill="none" stroke="#404040" stroke-width="1.6"/></svg>
<div style="position:absolute;left:1767.5px;top:734px;width:16px;height:15.5px;background:#ffffff;border:1px solid #bdbdbd;border-radius:3px;box-sizing:border-box;"></div>
<div style="position:absolute;left:1539px;top:751.7px;width:261px;height:28.3px;background:#f9f9f9;"></div>
<div style="position:absolute;left:1783px;top:139px;width:17px;height:612.7px;background:#efefef;"></div>
<svg style="position:absolute;left:1787px;top:144px;" width="10" height="6" viewBox="0 0 10 6"><path d="M0 6l5 -5l5 5z" fill="#a6a6a6"/></svg>
<div style="position:absolute;left:1783.5px;top:159px;width:16.5px;height:374px;background:#c2c2c2;"></div>
<svg style="position:absolute;left:1786.5px;top:738px;" width="10" height="6" viewBox="0 0 10 6"><path d="M0 0l5 5l5 -5z" fill="#404040"/></svg>
</body></html>
